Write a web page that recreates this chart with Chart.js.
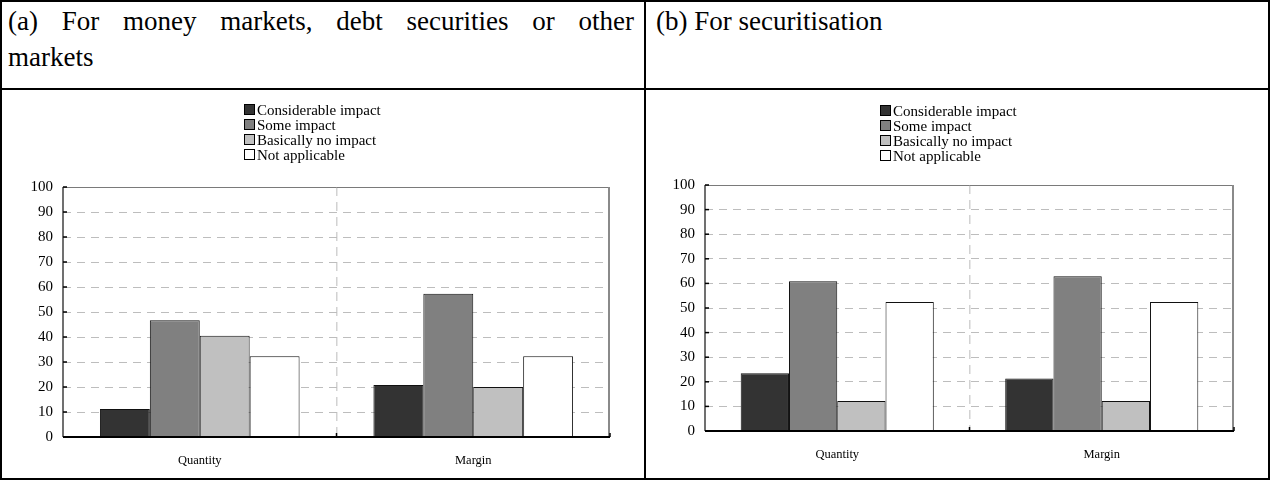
<!DOCTYPE html>
<html>
<head>
<meta charset="utf-8">
<script src="https://cdn.jsdelivr.net/npm/chart.js@4.4.1/dist/chart.umd.min.js"></script>
<style>
  html, body { margin: 0; padding: 0; background: #fff; }
  body { width: 1270px; height: 480px; position: relative; overflow: hidden; font-family: "Liberation Serif", "Times New Roman", serif; color: #000; }
  .line { position: absolute; background: #000; }
  .hdr { position: absolute; font-size: 27px; line-height: 36px; }
  .just { text-align: justify; text-align-last: justify; }
  .cell { position: absolute; }
  .legend { position: absolute; font-size: 15px; line-height: 15px; white-space: nowrap; }
  .legend div { height: 15px; }
  .sw { display: inline-block; width: 9px; height: 9px; border: 1px solid #000; margin-right: 2px; vertical-align: 0px; box-sizing: content-box; }
</style>
</head>
<body>
<!-- table frame -->
<div class="line" style="left:0;top:0;width:1270px;height:2px"></div>
<div class="line" style="left:0;top:478px;width:1270px;height:2px"></div>
<div class="line" style="left:0;top:0;width:2px;height:480px"></div>
<div class="line" style="left:1268px;top:0;width:2px;height:480px"></div>
<div class="line" style="left:644px;top:0;width:2px;height:480px"></div>
<div class="line" style="left:0;top:88px;width:1270px;height:2px"></div>

<div class="hdr" style="left:8px;top:3px;width:626px">
  <div class="just">(a) For money markets, debt securities or other</div>
  <div>markets</div>
</div>
<div class="hdr" style="left:656px;top:3px;width:600px">(b) For securitisation</div>

<div class="cell" style="left:2px;top:90px;width:642px;height:386px"><canvas id="chartA"></canvas></div>
<div class="cell" style="left:646px;top:90px;width:620px;height:386px"><canvas id="chartB"></canvas></div>

<div class="legend" id="legendA" style="left:244px;top:103px"></div>
<div class="legend" id="legendB" style="left:880px;top:104px"></div>

<script>
// ---- data ----
const categories = ["Quantity", "Margin"];
const seriesNames = ["Considerable impact", "Some impact", "Basically no impact", "Not applicable"];
const seriesColors = ["#333333", "#808080", "#c0c0c0", "#ffffff"];
// Panel (a): money markets, debt securities or other markets
const aConsiderable = [11.2, 20.8];
const aSome = [46.7, 57.3];
const aBasicallyNo = [40.5, 20.0];
const aNotApplicable = [32.3, 32.3];
// Panel (b): securitisation
const bConsiderable = [23.5, 21.3];
const bSome = [60.9, 62.9];
const bBasicallyNo = [12.2, 12.2];
const bNotApplicable = [52.4, 52.4];
const yTicks = [0, 10, 20, 30, 40, 50, 60, 70, 80, 90, 100];

// ---- legends (HTML text) ----
function buildLegend(id) {
  const el = document.getElementById(id);
  seriesNames.forEach((n, i) => {
    const row = document.createElement('div');
    const sw = document.createElement('span');
    sw.className = 'sw';
    sw.style.background = seriesColors[i];
    row.appendChild(sw);
    row.appendChild(document.createTextNode(n));
    el.appendChild(row);
  });
}
buildLegend('legendA');
buildLegend('legendB');

const framePlugin = {
  id: 'frame',
  afterDatasetsDraw(chart) {
    const { ctx, chartArea: a, scales } = chart;
    ctx.save();
    ctx.setLineDash([]);
    // top border
    ctx.strokeStyle = '#7a7a7a'; ctx.lineWidth = 1;
    ctx.beginPath(); ctx.moveTo(a.left, a.top + 0.5); ctx.lineTo(a.right, a.top + 0.5); ctx.stroke();
    // right border
    ctx.strokeStyle = '#8a8a8a'; ctx.lineWidth = 2;
    ctx.beginPath(); ctx.moveTo(a.right - 1, a.top); ctx.lineTo(a.right - 1, a.bottom); ctx.stroke();
    // left axis
    ctx.strokeStyle = '#404040'; ctx.lineWidth = 1.5;
    ctx.beginPath(); ctx.moveTo(a.left, a.top); ctx.lineTo(a.left, a.bottom); ctx.stroke();
    // y inside ticks
    ctx.strokeStyle = '#000'; ctx.lineWidth = 1.5;
    yTicks.forEach(v => {
      const y = scales.y.getPixelForValue(v);
      ctx.beginPath(); ctx.moveTo(a.left, y); ctx.lineTo(a.left + 4, y); ctx.stroke();
    });
    // bottom axis
    ctx.strokeStyle = '#000'; ctx.lineWidth = 2;
    ctx.beginPath(); ctx.moveTo(a.left, a.bottom); ctx.lineTo(a.right, a.bottom); ctx.stroke();
    // x inside ticks at category boundaries
    ctx.lineWidth = 1.5;
    const xs = scales.x;
    for (let i = 1; i <= categories.length; i++) {
      const x = (xs.getPixelForValue(i - 1) + (i < categories.length ? xs.getPixelForValue(i) : 2 * xs.getPixelForValue(i - 1) - xs.getPixelForValue(i - 2))) / 2;
      ctx.beginPath(); ctx.moveTo(x, a.bottom); ctx.lineTo(x, a.bottom - 4); ctx.stroke();
    }
    ctx.restore();
  }
};

function makeChart(id, data, area) {
  const datasets = seriesNames.map((n, i) => ({
    label: n,
    data: data[i],
    backgroundColor: seriesColors[i],
    borderColor: '#111',
    borderWidth: 1,
    borderSkipped: 'bottom',
    categoryPercentage: 0.73,
    barPercentage: 1.0
  }));
  return new Chart(document.getElementById(id), {
    type: 'bar',
    data: { labels: categories, datasets },
    options: {
      responsive: true,
      maintainAspectRatio: false,
      animation: false,
      events: [],
      layout: { padding: { left: 0, top: area.top, right: area.right, bottom: 0 } },
      plugins: { legend: { display: false }, tooltip: { enabled: false } },
      scales: {
        x: {
          offset: true,
          grid: {
            display: true,
            offset: true,
            drawTicks: false,
            lineWidth: 1.5,
            color: (c) => c.index === 1 ? '#d2d2d2' : 'rgba(0,0,0,0)'
          },
          border: { display: false, dash: [9, 6] },
          ticks: { padding: 16, color: '#000', font: { family: 'Liberation Serif', size: 12.5 } },
          afterFit: (s) => { s.height = area.xh; }
        },
        y: {
          min: 0, max: 100,
          afterBuildTicks: (s) => { s.ticks = yTicks.map(v => ({ value: v })); },
          grid: {
            drawTicks: false,
            lineWidth: 1,
            color: (c) => (c.tick && (c.tick.value === 0 || c.tick.value === 100)) ? 'rgba(0,0,0,0)' : '#bdbdbd'
          },
          border: { display: false, dash: [8, 6] },
          ticks: { padding: 10, color: '#000', font: { family: 'Liberation Serif', size: 15 } },
          afterFit: (s) => { s.width = area.left; }
        }
      }
    },
    plugins: [framePlugin]
  });
}

makeChart('chartA', [aConsiderable, aSome, aBasicallyNo, aNotApplicable], { left: 61, top: 97, right: 34, xh: 39 });
makeChart('chartB', [bConsiderable, bSome, bBasicallyNo, bNotApplicable], { left: 59, top: 95, right: 32, xh: 45 });
</script>
</body>
</html>
